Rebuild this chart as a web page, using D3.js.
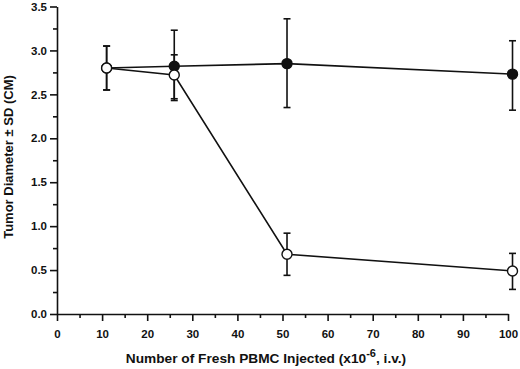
<!DOCTYPE html>
<html>
<head>
<meta charset="utf-8">
<script src="https://cdn.jsdelivr.net/npm/d3@7"></script>
<style>
  body { margin: 0; background: #fff; }
  text { font-family: "Liberation Sans", Arial, sans-serif; font-weight: bold; fill: #111; }
</style>
</head>
<body>
<svg id="chart" width="520" height="369"></svg>
<script>
// cell dose (x10^6)
var doses = [11, 26, 51, 101];
// filled circles
var filledMean = [2.80, 2.82, 2.85, 2.73];
var filledLow  = [2.55, 2.43, 2.35, 2.32];
var filledHigh = [3.05, 3.23, 3.36, 3.11];
// open circles
var openMean = [2.80, 2.72, 0.68, 0.49];
var openLow  = [2.55, 2.45, 0.44, 0.28];
var openHigh = [3.05, 2.95, 0.92, 0.69];

var xTicks = [0, 10, 20, 30, 40, 50, 60, 70, 80, 90, 100];
var yTicks = [0.0, 0.5, 1.0, 1.5, 2.0, 2.5, 3.0, 3.5];

var width = 520, height = 369;
var margin = {top: 6.5, right: 12, bottom: 55, left: 57};

var svg = d3.select('#chart');

var x = d3.scaleLinear().domain([0, 100]).range([margin.left, width - margin.right]);
var y = d3.scaleLinear().domain([0, 3.5]).range([height - margin.bottom, margin.top]);

// minor ticks first
svg.append("g")
  .attr("transform", `translate(0,${height - margin.bottom})`)
  .call(d3.axisBottom(x).tickValues(d3.range(5, 100, 10)).tickSize(4).tickFormat(""))
  .call(g => g.select(".domain").remove());
svg.append("g")
  .attr("transform", `translate(${margin.left},0)`)
  .call(d3.axisLeft(y).tickValues(d3.range(0.25, 3.5, 0.5)).tickSize(4).tickFormat(""))
  .call(g => g.select(".domain").remove());

// major
var xAxis = svg.append("g")
  .attr("transform", `translate(0,${height - margin.bottom})`)
  .call(d3.axisBottom(x).tickValues(xTicks).tickSize(7).tickSizeOuter(0).tickPadding(9));
var yAxis = svg.append("g")
  .attr("transform", `translate(${margin.left},0)`)
  .call(d3.axisLeft(y).tickValues(yTicks).tickSize(7).tickSizeOuter(0).tickPadding(3)
    .tickFormat(d3.format(".1f")));

svg.selectAll(".tick line, .domain").attr("stroke", "#111").attr("stroke-width", 1.6);
svg.selectAll(".tick text").attr("font-size", 11.5).attr("font-family", "Liberation Sans, Arial, sans-serif").attr("font-weight", "bold").attr("fill", "#111");

// axis titles
svg.append("text")
  .attr("x", 266).attr("y", 363)
  .attr("text-anchor", "middle")
  .attr("font-size", 13.7)
  .html('Number of Fresh PBMC Injected (x10<tspan dy="-6" font-size="11">-6</tspan><tspan dy="6">, i.v.)</tspan>');

svg.append("text")
  .attr("transform", "translate(13,157) rotate(-90)")
  .attr("text-anchor", "middle")
  .attr("font-size", 13)
  .text("Tumor Diameter \u00b1 SD (CM)");

function drawSeries(mean, low, high, fill) {
  var pts = doses.map((d, i) => ({x: d, m: mean[i], lo: low[i], hi: high[i]}));
  var g = svg.append("g");
  g.append("path")
    .datum(pts)
    .attr("fill", "none")
    .attr("stroke", "#111")
    .attr("stroke-width", 1.6)
    .attr("d", d3.line().x(d => x(d.x)).y(d => y(d.m)));
  var eb = g.selectAll(".eb").data(pts).join("g").attr("stroke", "#111").attr("stroke-width", 1.6);
  eb.append("line")
    .attr("x1", d => x(d.x)).attr("x2", d => x(d.x))
    .attr("y1", d => y(d.lo)).attr("y2", d => y(d.hi));
  eb.append("line")
    .attr("x1", d => x(d.x) - 3.5).attr("x2", d => x(d.x) + 3.5)
    .attr("y1", d => y(d.lo)).attr("y2", d => y(d.lo));
  eb.append("line")
    .attr("x1", d => x(d.x) - 3.5).attr("x2", d => x(d.x) + 3.5)
    .attr("y1", d => y(d.hi)).attr("y2", d => y(d.hi));
  g.selectAll("circle").data(pts).join("circle")
    .attr("cx", d => x(d.x)).attr("cy", d => y(d.m))
    .attr("r", 5)
    .attr("fill", fill)
    .attr("stroke", "#111")
    .attr("stroke-width", 1.4);
}

drawSeries(filledMean, filledLow, filledHigh, "#111");
drawSeries(openMean, openLow, openHigh, "#fff");
</script>
</body>
</html>
